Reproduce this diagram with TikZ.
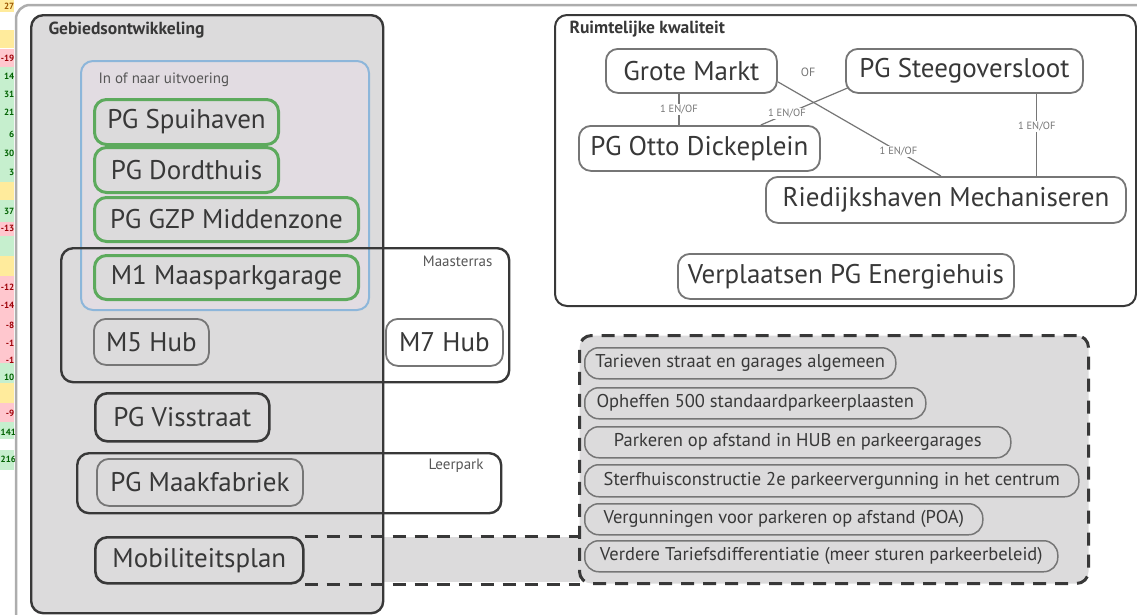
\documentclass[tikz,border=0pt]{standalone}
\usepackage{fontspec}
\setsansfont{PT Sans}
\renewcommand{\familydefault}{\sfdefault}
\usetikzlibrary{positioning}
\definecolor{gbdark}{HTML}{383838}
\definecolor{gbline}{HTML}{767676}
\definecolor{gbfill}{HTML}{DCDBDC}
\definecolor{uitfill}{HTML}{E2DCE2}
\definecolor{uitblue}{HTML}{8DB6DA}
\definecolor{pggreen}{HTML}{5DAA5D}
\definecolor{framegray}{HTML}{ADADAD}
\definecolor{cellyel}{HTML}{FFEB9C}
\definecolor{cellred}{HTML}{FFC7CE}
\definecolor{cellgrn}{HTML}{C6EFCE}
\definecolor{txtred}{HTML}{9C0006}
\definecolor{txtgrn}{HTML}{006100}
\definecolor{txtyel}{HTML}{9C5700}
\newcommand{\bigtxt}{\fontsize{27}{30}\selectfont}
\newcommand{\itemtxt}{\fontsize{18.5}{20}\selectfont}
\newcommand{\headtxt}{\fontsize{17.5}{19}\selectfont\bfseries}
\newcommand{\smalltxt}{\fontsize{15}{17}\selectfont}
\newcommand{\tagtxt}{\fontsize{10.5}{12}\selectfont}
\tikzset{
	area/.style={draw=gbdark, line width=2.4pt, rounded corners=12pt,
		anchor=north west, inner sep=0pt},
	pgbox/.style={draw=gbline, line width=1.8pt, rounded corners=12pt, fill=gbfill,
		anchor=north west, inner sep=0pt, font=\bigtxt, text=gbdark},
	greenbox/.style={pgbox, draw=pggreen, line width=3pt},
	darkbox/.style={pgbox, draw=gbdark, line width=2.6pt},
	whitebox/.style={pgbox, fill=white},
	itembox/.style={pgbox, rounded corners=14pt, line width=1.5pt, font=\itemtxt},
	conn/.style={draw=gbline, line width=1.2pt},
	edgelbl/.style={fill=white, inner sep=1pt, font=\tagtxt, text=gbline},
	dashline/.style={draw=gbdark, line width=3pt, dash pattern=on 13pt off 9pt},
	numtxt/.style={anchor=east, inner sep=0pt, font=\fontsize{9}{10}\selectfont\bfseries}
}
\begin{document}
\begin{tikzpicture}[x=1pt, y=-1pt]
	\useasboundingbox (0,0) rectangle (1137,614);
	% spreadsheet strip on the left
	\foreach \ya/\yb/\cl in {0/12/cellyel, 30/48/cellyel, 49/67/cellred, 67/182/cellgrn,
		182/200/cellyel, 200/222/cellgrn, 222/236/cellred, 236/256/cellgrn, 256/276/cellyel,
		276/363/cellred, 363/383/cellgrn, 383/403/cellyel, 403/422/cellred, 422/439/cellgrn,
		450/470/cellgrn}
		\fill[\cl] (0,\ya) rectangle (14,\yb);
	\foreach \yy/\nm/\tc [count=\i] in {6/27/txtyel, 58/-19/txtred, 76/14/txtgrn, 94/31/txtgrn,
		112/21/txtgrn, 134/6/txtgrn, 153/30/txtgrn, 172/3/txtgrn, 211/37/txtgrn, 228/-13/txtred,
		287/-12/txtred, 305/-14/txtred, 325/-8/txtred, 343/-1/txtred, 360/-1/txtred,
		377/10/txtgrn, 413/-9/txtred}
		\node[numtxt, text=\tc] (num\i) at (14.5,\yy) {\nm};
	\node[numtxt, anchor=west, text=txtgrn] (numa) at (0.5,432) {141};
	\node[numtxt, anchor=west, text=txtgrn] (numb) at (0.5,459) {216};
	\draw[framegray, line width=2.5pt, rounded corners=14pt] (16,5) rectangle (1170,650);

	% Gebiedsontwikkeling
	\coordinate (bandnw) at (302,537);
	\coordinate (bandse) at (580,582);
	\fill[gbfill] (bandnw) rectangle (bandse);
	\node[area, fill=gbfill, minimum width=352pt, minimum height=598pt] (gebied) at (30,14) {};
	\node[font=\headtxt, text=gbdark, anchor=west] (gebiedlbl) at (45,30) {Gebiedsontwikkeling};
	\node[draw=uitblue, line width=2pt, fill=uitfill, rounded corners=12pt, anchor=north west,
		minimum width=288pt, minimum height=249pt] (uitvoering) at (80,60) {};
	\node[font=\smalltxt, text=gbdark!85, anchor=west] (uitlbl) at (95,80) {In of naar uitvoering};
	\node[area, minimum width=448pt, minimum height=134pt] (maasterras) at (60,247) {};
	\node[font=\smalltxt, text=gbdark!85, anchor=east] (maaslbl) at (496,261) {Maasterras};
	\node[area, minimum width=424pt, minimum height=60pt] (leerpark) at (76,452) {};
	\node[font=\smalltxt, text=gbdark!85, anchor=east] (leerlbl) at (487,466) {Leerpark};

	\node[greenbox, minimum width=184pt, minimum height=45pt] (spui) at (93,98) {PG Spuihaven};
	\node[greenbox, minimum width=184pt, minimum height=45pt] (dord) at (93,146) {PG Dordthuis};
	\node[greenbox, minimum width=264pt, minimum height=44pt] (gzp) at (93,196) {PG GZP Middenzone};
	\node[greenbox, minimum width=264pt, minimum height=44pt] (maas) at (93,254) {M1 Maasparkgarage};
	\node[pgbox, minimum width=115pt, minimum height=46pt] (mvijf) at (93,318) {M5 Hub};
	\node[whitebox, minimum width=117pt, minimum height=47pt] (mzeven) at (385,318) {M7 Hub};
	\node[darkbox, minimum width=174pt, minimum height=48pt] (viss) at (94,392) {PG Visstraat};
	\node[pgbox, minimum width=206pt, minimum height=47pt] (maak) at (96,458) {PG Maakfabriek};
	\node[darkbox, minimum width=208pt, minimum height=46pt] (mobiel) at (94,536) {Mobiliteitsplan};

	% Mobiliteitsplan maatregelen
	\draw[dashline] (mobiel.north east) -- (mobiel.north east -| bandse);
	\draw[dashline] (mobiel.south east) -- (mobiel.south east -| bandse);
	\node[dashline, fill=gbfill, rounded corners=12pt, anchor=north west, inner sep=0pt,
		minimum width=509pt, minimum height=248pt] (mobbox) at (578,334) {};
	\node[itembox, minimum width=311pt, minimum height=31pt] (tarief) at (584,347) {Tarieven straat en garages algemeen};
	\node[itembox, minimum width=341pt, minimum height=31pt] (opheffen) at (584,387) {Opheffen 500 standaardparkeerplaasten};
	\node[itembox, minimum width=426pt, minimum height=31pt] (afstand) at (584,426) {Parkeren op afstand in HUB en parkeergarages};
	\node[itembox, minimum width=494pt, minimum height=32pt] (sterf) at (584,464) {Sterfhuisconstructie 2e parkeervergunning in het centrum};
	\node[itembox, minimum width=398pt, minimum height=31pt] (poa) at (584,503) {Vergunningen voor parkeren op afstand (POA)};
	\node[itembox, minimum width=473pt, minimum height=31pt] (verdere) at (584,540) {Verdere Tariefsdifferentiatie (meer sturen parkeerbeleid)};

	% Ruimtelijke kwaliteit
	\node[area, line width=2pt, fill=white, minimum width=581pt, minimum height=291pt] (ruimte) at (554,14) {};
	\node[font=\headtxt, text=gbdark, anchor=west] (ruimtelbl) at (566,29) {Ruimtelijke kwaliteit};
	\node[whitebox, minimum width=171pt, minimum height=44pt] (grote) at (605,48) {Grote Markt};
	\node[whitebox, minimum width=237pt, minimum height=44pt] (steeg) at (845,48) {PG Steegoversloot};
	\node[whitebox, minimum width=241pt, minimum height=45pt] (otto) at (578,125) {PG Otto Dickeplein};
	\node[whitebox, minimum width=360pt, minimum height=46pt] (ried) at (765,176) {Riedijkshaven Mechaniseren};
	\node[whitebox, minimum width=336pt, minimum height=45pt] (energie) at (677,253) {Verplaatsen PG Energiehuis};
	\node[font=\fontsize{12}{13}\selectfont, text=gbline] (oflbl) at (808,72) {OF};
	\draw[conn] ([xshift=-12.5pt]grote.south) -- ([xshift=-12.5pt]grote.south |- otto.north)
		node[edgelbl, midway] (lblgo) {1 EN/OF};
	\draw[conn] ([xshift=3pt, yshift=6pt]steeg.south west) -- ([xshift=-60pt]otto.north east)
		node[edgelbl, pos=0.7] (lblso) {1 EN/OF};
	\draw[conn] ([yshift=12pt]grote.south east) -- ([xshift=-5pt]ried.north)
		node[edgelbl, pos=0.74] (lblgr) {1 EN/OF};
	\draw[conn] ([xshift=-47pt]steeg.south east) -- ([xshift=-47pt]steeg.south east |- ried.north)
		node[edgelbl, pos=0.4] (lblsr) {1 EN/OF};
\end{tikzpicture}
\end{document}
